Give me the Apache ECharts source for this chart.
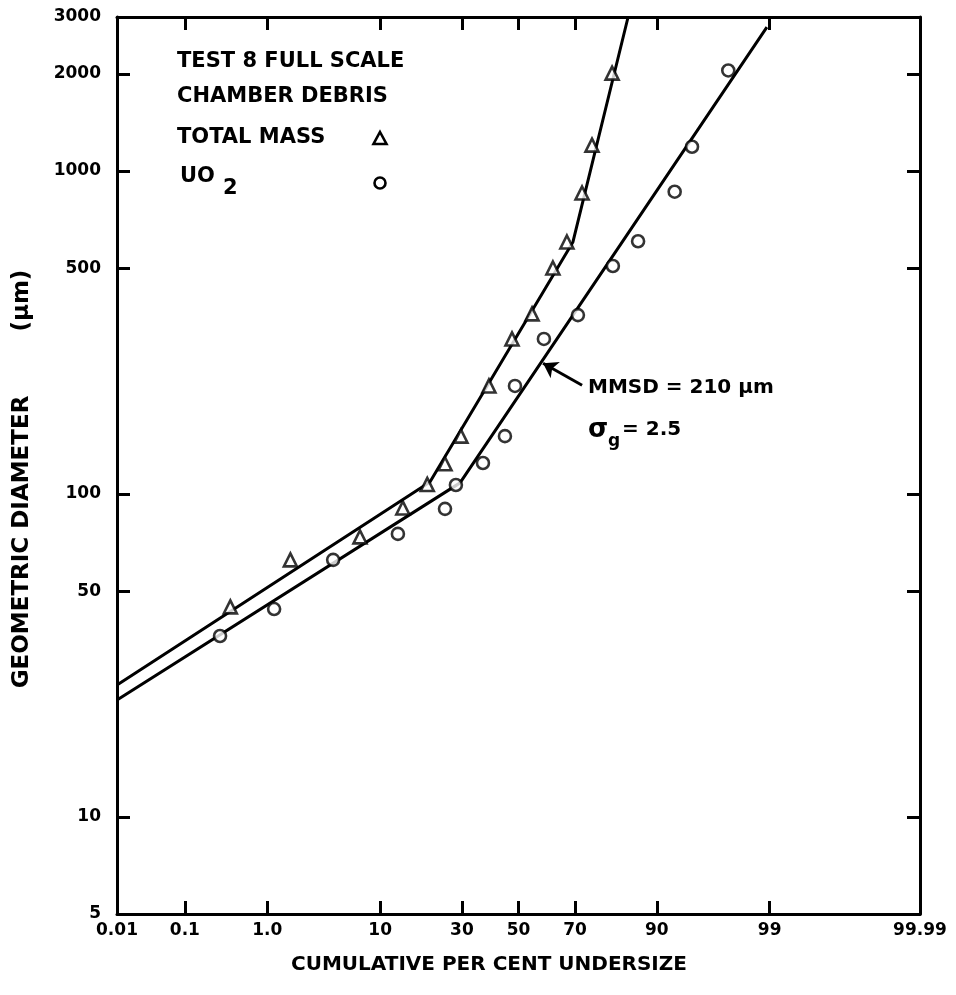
<!DOCTYPE html>
<html><head><meta charset="utf-8">
<script src="https://cdn.jsdelivr.net/npm/echarts@6/dist/echarts.min.js"></script>
<style>html,body{margin:0;padding:0;background:#fff}#c{width:956px;height:995px}</style>
</head><body><div id="c"></div>
<script>
// ---- data (cumulative % undersize, geometric diameter in µm) ----
const xTickPercents = [0.1, 1, 10, 30, 50, 70, 90, 99];
const xLabelPercents = [0.01, 0.1, 1, 10, 30, 50, 70, 90, 99, 99.99];
const xLabelTexts = ['0.01', '0.1', '1.0', '10', '30', '50', '70', '90', '99', '99.99'];
const yLabelValues = [5, 10, 50, 100, 500, 1000, 2000, 3000];
const yTickValues = [10, 50, 100, 500, 1000, 2000];

const totalMassPct = [0.38, 1.73, 7.1, 14.2, 19.9, 24.8, 29.7, 39.2, 47.6, 55.0, 62.5, 67.3, 72.2, 75.2, 80.7];
const totalMassDia = [44.7, 62.5, 73.6, 90.5, 107, 124, 151, 216, 302, 361, 501, 603, 855, 1203, 2010];
const uo2Pct = [0.285, 1.18, 4.3, 13.2, 24.8, 28.1, 37.1, 45.0, 48.7, 59.3, 70.9, 80.9, 86.6, 92.6, 94.6, 97.4];
const uo2Dia = [36.3, 44.0, 62.5, 75.2, 89.9, 106.6, 124.7, 151, 216, 302, 358, 508, 606, 863, 1189, 2049];

const totalFitPct = [0.01, 20.6, 69.3, 84.5];
const totalFitDia = [25.6, 108.9, 603, 3000];
const uo2FitPct = [0.01, 29.4, 98.93];
const uo2FitDia = [23.0, 108.2, 2790];

const arrowFromPct = 72.2, arrowFromDia = 217;
const arrowToPct = 59.0, arrowToDia = 254;

// ---- probability (probit) transform ----
function probit(p) {
  const a=[-3.969683028665376e+01,2.209460984245205e+02,-2.759285104469687e+02,1.383577518672690e+02,-3.066479806614716e+01,2.506628277459239e+00];
  const b=[-5.447609879822406e+01,1.615858368580409e+02,-1.556989798598866e+02,6.680131188771972e+01,-1.328068155288572e+01];
  const c=[-7.784894002430293e-03,-3.223964580411365e-01,-2.400758277161838e+00,-2.549732539343734e+00,4.374664141464968e+00,2.938163982698783e+00];
  const d=[7.784695709041462e-03,3.224671290700398e-01,2.445134137142996e+00,3.754408661907416e+00];
  const pl=0.02425, ph=1-pl; let q,r;
  if (p<pl){q=Math.sqrt(-2*Math.log(p));return (((((c[0]*q+c[1])*q+c[2])*q+c[3])*q+c[4])*q+c[5])/((((d[0]*q+d[1])*q+d[2])*q+d[3])*q+1);}
  if (p<=ph){q=p-0.5;r=q*q;return (((((a[0]*r+a[1])*r+a[2])*r+a[3])*r+a[4])*r+a[5])*q/(((((b[0]*r+b[1])*r+b[2])*r+b[3])*r+b[4])*r+1);}
  q=Math.sqrt(-2*Math.log(1-p));return -(((((c[0]*q+c[1])*q+c[2])*q+c[3])*q+c[4])*q+c[5])/((((d[0]*q+d[1])*q+d[2])*q+d[3])*q+1);
}
const X = pct => probit(pct / 100);
const Y = v => Math.log10(v);
const pairs = (xs, ys) => xs.map((x, i) => [X(x), Y(ys[i])]);

const xMin = X(0.01), xMax = X(99.99);
const yMin = Y(5), yMax = Y(3000);
const FONT = '"DejaVu Sans", sans-serif';

function xLabelFmt(v) {
  for (let i = 0; i < xLabelPercents.length; i++) if (Math.abs(X(xLabelPercents[i]) - v) < 1e-6) return xLabelTexts[i];
  return '';
}
function yLabelFmt(v) {
  for (let i = 0; i < yLabelValues.length; i++) if (Math.abs(Y(yLabelValues[i]) - v) < 1e-6) return String(yLabelValues[i]);
  return '';
}

const axisLineStyle = { color: '#000', width: 3 };
const tickStyle = { color: '#000', width: 3 };

const chart = echarts.init(document.getElementById('c'));
chart.setOption({
  backgroundColor: '#fff',
  animation: false,
  grid: { left: 117, right: 36, top: 17, bottom: 81, containLabel: false },
  xAxis: [
    {
      type: 'value', min: xMin, max: xMax, position: 'bottom',
      axisLine: { show: true, onZero: false, lineStyle: axisLineStyle },
      axisTick: { show: true, inside: true, length: 13, lineStyle: tickStyle, customValues: xTickPercents.map(X) },
      axisLabel: { show: true, customValues: xLabelPercents.map(X), formatter: xLabelFmt, color: '#000',
        fontFamily: FONT, fontWeight: 'bold', fontSize: 17, margin: 8, showMinLabel: true, showMaxLabel: true },
      splitLine: { show: false }
    },
    {
      type: 'value', min: xMin, max: xMax, position: 'top',
      axisLine: { show: true, onZero: false, lineStyle: axisLineStyle },
      axisTick: { show: true, inside: true, length: 13, lineStyle: tickStyle, customValues: xTickPercents.map(X) },
      axisLabel: { show: false }, splitLine: { show: false }
    }
  ],
  yAxis: [
    {
      type: 'value', min: yMin, max: yMax, position: 'left',
      axisLine: { show: true, onZero: false, lineStyle: axisLineStyle },
      axisTick: { show: true, inside: true, length: 13, lineStyle: tickStyle, customValues: yTickValues.map(Y) },
      axisLabel: { show: true, customValues: yLabelValues.map(Y), formatter: yLabelFmt, color: '#000',
        fontFamily: FONT, fontWeight: 'bold', fontSize: 17, margin: 16, showMinLabel: true, showMaxLabel: true },
      splitLine: { show: false }
    },
    {
      type: 'value', min: yMin, max: yMax, position: 'right',
      axisLine: { show: true, onZero: false, lineStyle: axisLineStyle },
      axisTick: { show: true, inside: true, length: 13, lineStyle: tickStyle, customValues: yTickValues.map(Y) },
      axisLabel: { show: false }, splitLine: { show: false }
    }
  ],
  series: [
    {
      name: 'Total mass fit', type: 'line', data: pairs(totalFitPct, totalFitDia),
      showSymbol: false, symbol: 'none', lineStyle: { color: '#000', width: 3 }, z: 2
    },
    {
      name: 'UO2 fit', type: 'line', data: pairs(uo2FitPct, uo2FitDia),
      showSymbol: false, symbol: 'none', lineStyle: { color: '#000', width: 3 }, z: 2,
      markLine: {
        silent: true, symbol: ['none', 'arrow'], symbolSize: 14,
        lineStyle: { color: '#000', width: 3, type: 'solid' }, label: { show: false },
        data: [[ { coord: [X(arrowFromPct), Y(arrowFromDia)] }, { coord: [X(arrowToPct), Y(arrowToDia)] } ]]
      }
    },
    {
      name: 'TOTAL MASS', type: 'scatter', data: pairs(totalMassPct, totalMassDia),
      symbol: 'triangle', symbolSize: 13,
      itemStyle: { color: '#fff', borderColor: '#000', borderWidth: 2.6 }, z: 3
    },
    {
      name: 'UO2', type: 'scatter', data: pairs(uo2Pct, uo2Dia),
      symbol: 'circle', symbolSize: 12,
      itemStyle: { color: '#fff', borderColor: '#000', borderWidth: 2.6 }, z: 3
    }
  ],
  graphic: [
    { type: 'text', x: 22, y: 479, rotation: Math.PI / 2, style: { text: 'GEOMETRIC DIAMETER        (µm)', fill: '#000', font: 'bold 23px ' + FONT, align: 'center', verticalAlign: 'middle' } },
    { type: 'text', x: 489, y: 965, style: { text: 'CUMULATIVE PER CENT UNDERSIZE', fill: '#000', font: 'bold 20px ' + FONT, align: 'center', verticalAlign: 'middle' } },
    { type: 'text', x: 177, y: 62, style: { text: 'TEST 8 FULL SCALE', fill: '#000', font: 'bold 21px ' + FONT, align: 'left', verticalAlign: 'middle' } },
    { type: 'text', x: 177, y: 97, style: { text: 'CHAMBER DEBRIS', fill: '#000', font: 'bold 21px ' + FONT, align: 'left', verticalAlign: 'middle' } },
    { type: 'text', x: 177, y: 138, style: { text: 'TOTAL MASS', fill: '#000', font: 'bold 21px ' + FONT, align: 'left', verticalAlign: 'middle' } },
    { type: 'text', x: 180, y: 177, style: { text: 'UO', fill: '#000', font: 'bold 21px ' + FONT, align: 'left', verticalAlign: 'middle' } },
    { type: 'text', x: 223, y: 189, style: { text: '2', fill: '#000', font: 'bold 21px ' + FONT, align: 'left', verticalAlign: 'middle' } },
    { type: 'polygon', shape: { points: [[380, 132], [386.5, 144], [373.5, 144]] }, style: { fill: '#fff', stroke: '#000', lineWidth: 2.6 } },
    { type: 'circle', shape: { cx: 380, cy: 183, r: 5.5 }, style: { fill: '#fff', stroke: '#000', lineWidth: 2.6 } },
    { type: 'text', x: 588, y: 388, style: { text: 'MMSD = 210 µm', fill: '#000', font: 'bold 20px ' + FONT, align: 'left', verticalAlign: 'middle' } },
    { type: 'text', x: 588, y: 430, style: { text: 'σ', fill: '#000', font: 'bold 26px ' + FONT, align: 'left', verticalAlign: 'middle' } },
    { type: 'text', x: 608, y: 442, style: { text: 'g', fill: '#000', font: 'bold 17px ' + FONT, align: 'left', verticalAlign: 'middle' } },
    { type: 'text', x: 622, y: 430, style: { text: '= 2.5', fill: '#000', font: 'bold 20px ' + FONT, align: 'left', verticalAlign: 'middle' } }
  ]
});
</script>
</body></html>
